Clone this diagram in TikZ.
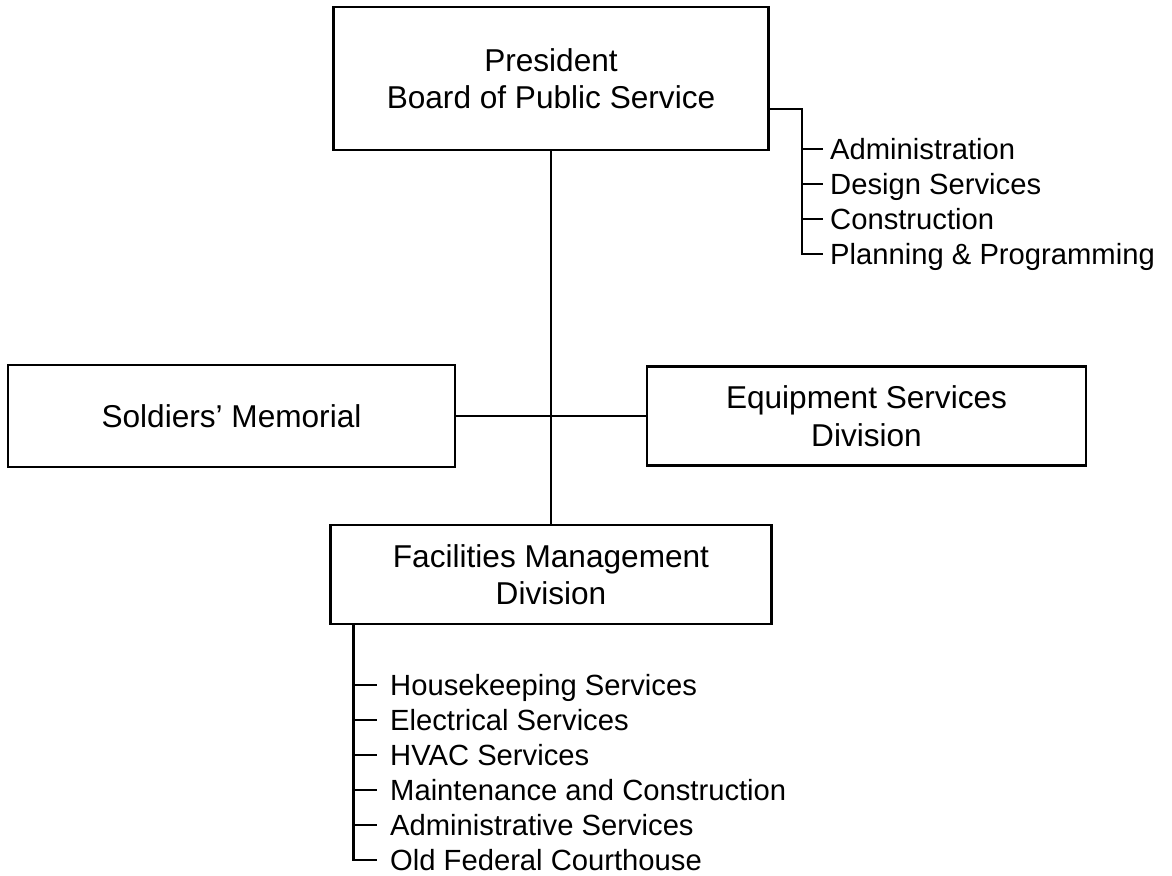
\documentclass[tikz,border=0pt]{standalone}
\usepackage{fontspec}
\setmainfont{Liberation Sans}
\begin{document}
\begin{tikzpicture}[x=1pt,y=-1pt,
  box/.style={draw, line width=2.6pt, inner sep=0pt, align=center,
    font=\fontsize{31.6}{37.5}\selectfont},
  item/.style={anchor=west, inner sep=0pt, text height=20.5pt, text depth=0pt,
    font=\fontsize{29.2}{35}\selectfont},
  conn/.style={line width=2.6pt}]
\useasboundingbox (0,0) rectangle (1172,875);
% boxes
\node[box, minimum width=435pt, minimum height=143pt] (pres) at (551,78.5) {President\\Board of Public Service};
\node[box, minimum width=447pt, minimum height=102pt] (sold) at (231.5,416) {Soldiers’ Memorial};
\node[box, minimum width=439pt, minimum height=99pt] (equip) at (866.5,416) {Equipment Services\\Division};
\node[box, minimum width=441pt, minimum height=99pt] (fac) at (551,574.5) {Facilities Management\\Division};
% top-right list
\node[item] (adm)  at (830,149) {Administration};
\node[item] (des)  at (830,184) {Design Services};
\node[item] (con)  at (830,219) {Construction};
\node[item] (plan) at (830,254) {Planning \& Programming};
% bottom list
\node[item] (hk)   at (390,685) {Housekeeping Services};
\node[item] (el)   at (390,720) {Electrical Services};
\node[item] (hvac) at (390,755) {HVAC Services};
\node[item] (mc)   at (390,790) {Maintenance and Construction};
\node[item] (as)   at (390,825) {Administrative Services};
\node[item] (ofc)  at (390,860) {Old Federal Courthouse};
% main connectors
\draw[conn] (pres.south) -- (fac.north);
\draw[conn] (sold.east) -- (equip.west);
% top bracket
\coordinate (b1) at (802,109);
\draw[conn] (pres.east |- b1) -- (b1) -- (b1 |- plan.west) -- ([xshift=-7pt]plan.west);
\foreach \n in {adm,des,con}
  \draw[conn] (b1 |- \n.west) -- ([xshift=-7pt]\n.west);
% bottom bracket
\coordinate (b2) at ([xshift=24pt]fac.south west);
\draw[conn] (b2) -- (b2 |- ofc.west) -- ([xshift=-13pt]ofc.west);
\foreach \n in {hk,el,hvac,mc,as}
  \draw[conn] (b2 |- \n.west) -- ([xshift=-13pt]\n.west);
\end{tikzpicture}
\end{document}
